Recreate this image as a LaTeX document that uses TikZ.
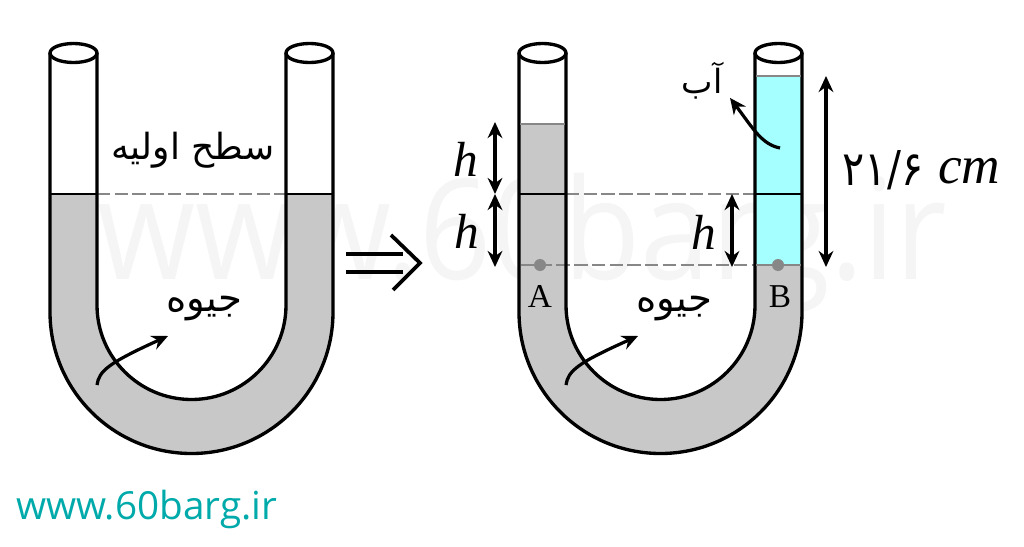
\documentclass[tikz,border=0pt]{standalone}
\usepackage{fontspec}
\setmainfont{Liberation Serif}
\newfontfamily\persianfont[Script=Arabic]{DejaVu Sans}
\newfontfamily\sitefont{Open Sans}
\TeXXeTstate=1
\usetikzlibrary{positioning, arrows.meta, bending}
\definecolor{mercury}{RGB}{200,200,200}
\definecolor{water}{RGB}{166,255,255}
\definecolor{level}{RGB}{135,135,135}
\definecolor{site}{RGB}{0,170,170}

\begin{document}
\begin{tikzpicture}[x=0.75pt,y=-0.75pt,
  wall/.style={draw=black,line width=2.5pt},
  levelline/.style={draw=level,line width=2.2pt},
  dashline/.style={draw=level,line width=2.2pt,dash pattern=on 10pt off 3.3pt},
  dim/.style={{Stealth[length=12pt,width=11pt]}-{Stealth[length=12pt,width=11pt]},line width=2.4pt},
  pointer/.style={-{Stealth[length=12pt,width=11pt,bend]},line width=2.4pt},
  fa/.style={font=\persianfont\fontsize{#1}{#1}\selectfont},
  hlabel/.style={font=\itshape\fontsize{37}{37}\selectfont,inner sep=0pt},
  point/.style={circle,fill=level,inner sep=0pt,minimum size=9pt}]

\useasboundingbox (0,0) rectangle (1024,546);

% Watermark
\node[font=\sitefont\fontsize{105}{105}\selectfont,text=black!4,xscale=0.9,inner sep=0pt] (mark) at (522,243) {www.60barg.ir};

% Left tube
\fill[white] (97,53) rectangle (286,194);
\fill[mercury] (50,194) -- (50,312) arc[start angle=180,end angle=0,radius=141.5] -- (333,194) -- (286,194) -- (286,305) arc[start angle=0,end angle=180,radius=94.5] -- (97,194) -- cycle;
\draw[dashline] (97,194) -- (286,194);

% Right tube
\fill[mercury] (519,124) -- (519,312) arc[start angle=180,end angle=0,radius=141.5] -- (802,265) -- (755,265) -- (755,305) arc[start angle=0,end angle=180,radius=94.5] -- (566,124) -- cycle;
\fill[water] (755,76) rectangle (802,265);
\draw[dashline] (566,194) -- (755,194);
\draw[dashline] (521,265) -- (755,265);

% Walls
\foreach \x in {0,469}{
  \draw[wall] (50+\x,53) -- (50+\x,312) arc[start angle=180,end angle=0,radius=141.5] -- (333+\x,53);
  \draw[wall] (97+\x,53) -- (97+\x,305) arc[start angle=180,end angle=0,radius=94.5] -- (286+\x,53);
  \draw[wall,fill=white] (73.5+\x,53) ellipse[x radius=23.5,y radius=9.5];
  \draw[wall,fill=white] (309.5+\x,53) ellipse[x radius=23.5,y radius=9.5];
  \draw[wall,line width=2pt] (50+\x,194) -- (97+\x,194);
  \draw[wall,line width=2pt] (286+\x,194) -- (333+\x,194);
}

% Free surfaces
\draw[levelline] (520,124) -- (565,124);
\draw[levelline] (756,76) -- (801,76);
\draw[levelline] (756,265) -- (801,265);

% Points
\node[point] (pA) at (540,265) {};
\node[point] (pB) at (778,265) {};
\node[font=\fontsize{25}{25}\selectfont,inner sep=0pt] (lA) at (540,296) {A};
\node[font=\fontsize{25}{25}\selectfont,inner sep=0pt] (lB) at (780,297) {B};

% Labels
\node[fa=27,inner sep=0pt] (first) at (193,150) {\beginR سطح اولیه\endR};
\node[fa=29,inner sep=0pt] (hgL) at (204,309) {\beginR جیوه\endR};
\node[fa=29,inner sep=0pt] (hgR) at (674,309) {\beginR جیوه\endR};
\node[fa=25,inner sep=0pt] (wtr) at (702,81) {\beginR آب\endR};

% Pointers
\coordinate (hgLs) at (97,385);
\coordinate (hgLe) at (168,336);
\coordinate (hgRs) at (566,385);
\coordinate (hgRe) at (638,336);
\coordinate (wtrs) at (780,148);
\coordinate (wtre) at (730,98);
\draw[pointer] (hgLs) .. controls (99,370) and (110,362) .. (hgLe);
\draw[pointer] (hgRs) .. controls (568,370) and (579,362) .. (hgRe);
\draw[pointer] (wtrs) .. controls (760,144) and (752,126) .. (wtre);

% Heights
\coordinate (tL) at (495,122);
\coordinate (mL) at (495,194);
\coordinate (bL) at (495,267);
\coordinate (mC) at (732,194);
\coordinate (bC) at (732,267);
\coordinate (tW) at (826,76);
\coordinate (bW) at (826,267);
\draw[dim] (tL) -- (mL);
\draw[dim] (mL) -- (bL);
\draw[dim] (mC) -- (bC);
\draw[dim] (tW) -- (bW);
\node[hlabel] (h1) at (466,159) {h};
\node[hlabel] (h2) at (467,231) {h};
\node[hlabel] (h3) at (704,232) {h};
\node[font=\persianfont\fontsize{36}{36}\selectfont,inner sep=0pt,xscale=0.86] (val) at (883,170) {۲۱/۶};
\node[font=\itshape\fontsize{40}{40}\selectfont,inner sep=0pt,anchor=base west] (unit) at (938,183) {cm};

% Implies arrow
\coordinate (iA) at (346,254);
\coordinate (iB) at (346,272);
\coordinate (iC) at (391,235);
\coordinate (iD) at (420,263);
\coordinate (iE) at (393,290);
\draw[line width=2.8pt] (iA) -- (403,254);
\draw[line width=2.8pt] (iB) -- (403,272);
\draw[line width=2.8pt] (iC) -- (iD) -- (iE);

% Site address
\node[font=\sitefont\fontsize{29}{29}\selectfont,text=site,inner sep=0pt,anchor=west] (addr) at (16,509) {www.60barg.ir};
\end{tikzpicture}
\end{document}
